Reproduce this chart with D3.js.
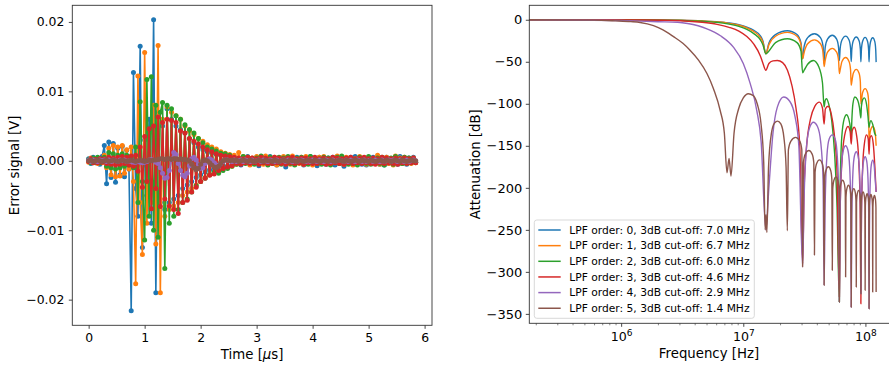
<!DOCTYPE html>
<html><head><meta charset="utf-8">
<script src="https://cdn.jsdelivr.net/npm/d3@7"></script>
<style>body{margin:0;background:#fff}svg text{font-family:"DejaVu Sans",sans-serif;fill:#000}</style>
</head><body><svg id="c" width="889" height="365"></svg>
<script>
// ---------- DATA ----------
const colors = ["#1f77b4","#ff7f0e","#2ca02c","#d62728","#9467bd","#8c564b"];
const timeStepUs = 0.04;
const errorOrder0 = [0.0003,-0.0004,0.0005,-0.0003,0.0002,-0.0005,0.0006,0.0022,-0.0033,0.0027,
-0.0024,0.0025,-0.0031,0.0018,-0.002,0.0021,-0.0023,0.0015,-0.0012,-0.0216,
0.0127,-0.004,-0.008,0.0165,-0.0125,0.003,-0.005,0.006,-0.009,0.0203,
-0.019,0.007,-0.006,0.005,-0.007,0.0075,-0.006,0.006,-0.0055,0.005,
-0.005,0.0045,-0.004,0.004,-0.0035,0.0032,-0.003,0.0026,-0.0024,0.002,
-0.002,0.0016,-0.0016,0.0013,-0.0013,0.0011,-0.001,0.0009,-0.0009,0.0008,
-0.0008,0.0007,-0.0007,0.0006,-0.0006,
0.0005,-0.0004,0.0003,-0.0006,0.0004,-0.0003,0.0006,-0.0005,0.0002,-0.0004,0.0005,-0.0007,0.0003,-0.0002,0.0004,-0.0005,0.0006,-0.0003,0.0002,-0.0006,
0.0004,-0.0004,0.0005,-0.0009,0.0003,-0.0003,0.0004,-0.0005,0.0005,-0.0002,0.0003,-0.0006,0.0004,-0.0004,0.0006,-0.0003,0.0002,-0.0007,0.0005,-0.0004,
0.0003,-0.0005,0.0004,-0.0003,0.0005,-0.0006,0.0002,-0.0004,0.0004,-0.0008,0.0003,-0.0003,0.0005,-0.0004,0.0006,-0.0002,0.0003,-0.0005,0.0004,-0.0006,
0.0002,-0.0004,0.0005,-0.0003,0.0004,-0.0005,0.0003,-0.0006,0.0005,-0.0004,0.0002,-0.0003,0.0004,-0.0005,0.0006,-0.0004,0.0003,-0.0005,0.0004,-0.0003,
0.0005,-0.0002];
const errorOrder1 = [-0.0002,0.0004,-0.0003,0.0003,-0.0004,0.0002,-0.0003,0.0008,-0.001,0.0018,
-0.002,0.0022,-0.0023,0.002,-0.0022,0.0022,-0.0018,0.0016,-0.0012,0.002,
-0.003,-0.0177,0.0122,-0.006,-0.0135,0.0156,-0.009,0.004,-0.006,0.008,
-0.012,0.0166,-0.019,0.006,-0.008,0.0078,-0.007,0.007,-0.0065,0.0065,
-0.006,0.006,-0.005,0.005,-0.0045,0.0043,-0.004,0.0038,-0.0035,0.0032,
-0.003,0.0028,-0.0024,0.0023,-0.002,0.002,-0.0017,0.0017,-0.0014,0.0013,
-0.0012,0.0011,-0.001,0.0009,-0.0008,
0.0008,-0.0005,0.0012,-0.0004,0.0006,-0.0003,0.0005,-0.0006,0.0004,-0.0002,0.0006,-0.0004,0.0003,-0.0005,0.0007,-0.0003,0.0004,-0.0004,0.0005,-0.0006,
0.0003,-0.0002,0.0006,-0.0004,0.0004,-0.0005,0.0007,-0.0003,0.0003,-0.0004,0.0005,-0.0005,0.0006,-0.0002,0.0004,-0.0006,0.0003,-0.0003,0.0005,-0.0004,
0.0006,-0.0004,0.0002,-0.0005,0.0004,-0.0003,0.0007,-0.0004,0.0003,-0.0005,0.0005,-0.0002,0.0004,-0.0006,0.0003,-0.0004,0.0006,-0.0003,0.0004,-0.0005,
0.0005,-0.0003,0.0003,-0.0004,0.0008,-0.0005,0.0004,-0.0002,0.0005,-0.0004,0.0003,-0.0006,0.0007,-0.0003,0.0004,-0.0004,0.0005,-0.0003,0.0003,-0.0004,
0.0004,-0.0003];
const errorOrder2 = [0.0002,-0.0003,0.0004,-0.0002,0.0005,-0.0003,0.0003,0.0005,-0.0008,0.0012,
-0.001,0.001,-0.0012,0.0008,-0.001,0.001,-0.0008,0.0008,-0.0006,0.0005,
-0.001,0.002,-0.006,0.0085,-0.003,-0.0114,0.0117,-0.008,0.0121,-0.01,
0.008,-0.011,0.007,0.0084,-0.0155,0.008,-0.009,0.0075,-0.008,0.0065,
-0.007,0.006,-0.006,0.0052,-0.0055,0.0045,-0.0045,0.004,-0.0036,0.0032,
-0.003,0.0026,-0.0025,0.002,-0.002,0.0017,-0.0016,0.0014,-0.0018,0.0011,
-0.0014,0.001,-0.0011,0.0008,-0.0008,
0.0004,-0.0005,0.0003,-0.0003,0.0006,-0.0004,0.0005,-0.0002,0.0003,-0.0005,0.0004,-0.0004,0.0007,-0.0003,0.0002,-0.0006,0.0005,-0.0004,0.0003,-0.0003,
0.0005,-0.0005,0.0004,-0.0002,0.0006,-0.0004,0.0003,-0.0006,0.0004,-0.0003,0.0005,-0.0004,0.0002,-0.0005,0.0006,-0.0003,0.0004,-0.0004,0.0003,-0.0005,
0.0005,-0.0003,0.0004,-0.0006,0.0003,-0.0002,0.0005,-0.0004,0.0007,-0.0003,0.0003,-0.0005,0.0004,-0.0004,0.0002,-0.0006,0.0005,-0.0003,0.0004,-0.0004,
0.0006,-0.0005,0.0003,-0.0003,0.0004,-0.0004,0.0005,-0.0006,0.0003,-0.0002,0.0004,-0.0005,0.0006,-0.0003,0.0003,-0.0004,0.0005,-0.0004,0.0004,-0.0003,
0.0003,-0.0002];
const errorOrder3 = [-0.0001,0.0003,-0.0003,0.0002,-0.0003,0.0003,-0.0002,0.0003,-0.0004,0.0005,
-0.0005,0.0004,-0.0006,0.0005,-0.0005,0.0006,-0.0004,0.0005,-0.0006,0.0007,
-0.0008,0.0008,-0.0015,0.002,-0.0038,0.0035,-0.003,0.0046,-0.0069,0.005,
-0.004,0.0063,-0.0066,0.0055,-0.0055,0.006,-0.0065,0.0058,-0.007,0.0055,
-0.0076,0.0043,-0.006,0.004,-0.0057,0.0032,-0.0045,0.0028,-0.0038,0.0024,
-0.003,0.002,-0.0025,0.0016,-0.0021,0.0013,-0.0019,0.001,-0.0014,0.0008,
-0.0011,0.0007,-0.0009,0.0006,-0.0007,
0.0005,-0.0004,0.0004,-0.0005,0.0003,-0.0003,0.0005,-0.0004,0.0004,-0.0003,0.0003,-0.0005,0.0005,-0.0003,0.0004,-0.0004,0.0003,-0.0004,0.0005,-0.0003,
0.0004,-0.0004,0.0003,-0.0005,0.0004,-0.0003,0.0005,-0.0004,0.0003,-0.0003,0.0004,-0.0005,0.0004,-0.0003,0.0003,-0.0004,0.0005,-0.0004,0.0003,-0.0003,
0.0004,-0.0005,0.0003,-0.0004,0.0005,-0.0003,0.0004,-0.0004,0.0003,-0.0005,0.0004,-0.0003,0.0005,-0.0004,0.0003,-0.0003,0.0004,-0.0004,0.0005,-0.0003,
0.0003,-0.0004,0.0004,-0.0005,0.0003,-0.0003,0.0005,-0.0004,0.0004,-0.0003,0.0003,-0.0004,0.0004,-0.0005,0.0003,-0.0003,0.0004,-0.0004,0.0003,-0.0003,
0.0004,-0.0003];
const errorOrder4 = [0.0001,-0.0001,0.0001,0,-0.0001,0.0001,0,0.0001,-0.0001,0.0001,
-0.0001,0.0001,0,-0.0001,0.0001,0,0.0001,-0.0001,0,-0.0001,
-0.0002,-0.0002,-0.0001,-0.0002,-0.0003,-0.0002,-0.0001,0.0001,0.0002,0,
-0.0002,-0.0004,-0.001,-0.0018,-0.0025,-0.0024,-0.0014,0.0002,0.0012,0.0009,
-0.0004,-0.0014,-0.0021,-0.0023,-0.0018,-0.0007,0.0003,0.0005,0.0001,-0.0005,
-0.0011,-0.001,-0.0004,0.0001,0.0003,0.0001,-0.0003,-0.0006,-0.0007,-0.0004,
-0.0001,0.0001,0.0001,0,-0.0001,
0.0001,-0.0001,0,0.0001,-0.0001,0.0001,0,-0.0001,0.0001,-0.0001,0,0.0001,-0.0001,0.0001,0,-0.0001,0.0001,0,-0.0001,0.0001,
-0.0001,0,0.0001,-0.0001,0.0001,0,-0.0001,0.0001,-0.0001,0,0.0001,0,-0.0001,0.0001,-0.0001,0.0001,0,-0.0001,0.0001,0,
-0.0001,0.0001,0,-0.0001,0.0001,-0.0001,0,0.0001,0,-0.0001,0.0001,-0.0001,0.0001,0,-0.0001,0.0001,0,-0.0001,0.0001,-0.0001,
0,0.0001,-0.0001,0.0001,0,-0.0001,0.0001,-0.0001,0,0.0001,-0.0001,0.0001,0,-0.0001,0.0001,0,-0.0001,0.0001,-0.0001,0,
0.0001,0];
const errorOrder5 = [0,0.0001,-0.0001,0,0.0001,0,-0.0001,0,0.0001,-0.0001,
0,0.0001,0,-0.0001,0,0.0001,0,-0.0001,0,0.0001,
0,-0.0001,0,0.0001,0,-0.0001,0,0.0001,0,0.0001,
0.0001,0.0002,0.0003,0.0003,0.0002,0.0003,0.0003,0.0002,0.0003,0.0003,
0.0002,0.0003,0.0002,0.0002,0.0001,0,-0.0005,-0.001,-0.0013,-0.0011,
-0.0005,0,0.0001,0,-0.0003,-0.0006,-0.0009,-0.001,-0.0008,-0.0004,
0,0.0001,0.0001,0,0.0001,
0,0.0001,-0.0001,0,0.0001,0,-0.0001,0.0001,0,-0.0001,0,0.0001,0,-0.0001,0.0001,0,0,-0.0001,0.0001,0,
-0.0001,0,0.0001,0,-0.0001,0.0001,0,0,-0.0001,0.0001,0,-0.0001,0,0.0001,0,-0.0001,0.0001,0,-0.0001,0,
0.0001,0,-0.0001,0.0001,0,-0.0001,0,0.0001,0,-0.0001,0.0001,0,-0.0001,0,0.0001,0,-0.0001,0.0001,0,0,
-0.0001,0.0001,0,-0.0001,0,0.0001,0,-0.0001,0.0001,0,-0.0001,0,0.0001,0,-0.0001,0.0001,0,-0.0001,0,0.0001,
0,0];

// Frequency responses: [frequency Hz, attenuation dB]
const respOrder0 = [[1.77e5,0],[1.5e6,-0.14],[3.06e6,-0.58],[4.6e6,-1.33],[6.1e6,-2.42],[7.0e6,-3.1],[7.65e6,-3.9],[9.2e6,-5.9],[10.7e6,-8.7],[12.2e6,-12.6],[13.8e6,-19.2],[14.5e6,-25.4],[15.3e6,-40.5],
[16.22e6,-27.6],[18.36e6,-17.6],[22.95e6,-13],[27.54e6,-17.6],[29.68e6,-27.6],[30.6e6,-46.5],
[31.52e6,-31.3],[33.66e6,-21.3],[38.25e6,-16.7],[42.84e6,-21.3],[44.98e6,-31.3],[45.9e6,-52.4],
[46.82e6,-33.1],[48.96e6,-23.1],[53.55e6,-18.5],[58.14e6,-23.1],[60.28e6,-33.1],[61.2e6,-48.5],
[62.12e6,-34.1],[64.26e6,-24.1],[68.85e6,-19.5],[73.44e6,-24.1],[75.58e6,-34.1],[76.5e6,-49.7],
[77.42e6,-35.1],[79.56e6,-25.1],[84.15e6,-20.5],[88.74e6,-25.1],[90.88e6,-35.1],[91.8e6,-50],
[92.72e6,-35.6],[94.86e6,-25.6],[99.45e6,-21],[104.04e6,-25.6],[106.18e6,-35.6],[107.1e6,-50],
[108.02e6,-36.1],[110.16e6,-26.1],[114.75e6,-21.5],[119.34e6,-26.1],[121.48e6,-36.1],[122.4e6,-50.4]];
const respOrder1 = [[1.77e5,0],[1.5e6,-0.15],[3.06e6,-0.63],[4.6e6,-1.45],[6.1e6,-2.65],[6.7e6,-3.0],[7.65e6,-4.3],[9.2e6,-6.5],[10.7e6,-9.6],[12.2e6,-14],[13.8e6,-21],[14.5e6,-27],[15.3e6,-40.5],
[16.22e6,-29.6],[18.36e6,-19.6],[22.95e6,-15],[27.54e6,-19.6],[29.68e6,-29.6],[30.6e6,-46.5],
[31.52e6,-38.6],[33.66e6,-28.6],[38.25e6,-24],[42.84e6,-28.6],[44.98e6,-38.6],[45.9e6,-55.6],
[46.82e6,-48.6],[48.96e6,-38.6],[53.55e6,-34],[58.14e6,-38.6],[60.28e6,-48.6],[61.2e6,-64],
[62.12e6,-59.6],[64.26e6,-49.6],[68.85e6,-45],[73.44e6,-49.6],[75.58e6,-59.6],[76.5e6,-78],
[77.42e6,-73.6],[79.56e6,-63.6],[84.15e6,-59],[88.74e6,-63.6],[90.88e6,-73.6],[91.8e6,-100],
[92.72e6,-96.6],[94.86e6,-86.6],[99.45e6,-82],[104.04e6,-86.6],[106.18e6,-96.6],[107.1e6,-150],
[108.02e6,-141.6],[110.16e6,-131.6],[114.75e6,-127],[119.34e6,-131.6],[121.48e6,-141.6],[122.4e6,-150]];
const respOrder2 = [[1.77e5,0],[1.5e6,-0.18],[3.06e6,-0.75],[4.6e6,-1.75],[6.0e6,-3.0],[7.65e6,-5.2],[9.2e6,-7.8],[10.7e6,-11.5],[12.2e6,-16.5],[13.8e6,-24],[14.5e6,-30],[15.3e6,-40.5],
[16.22e6,-37.2],[18.36e6,-27.2],[22.95e6,-22.6],[27.54e6,-27.2],[29.68e6,-37.2],[30.6e6,-63],
[31.52e6,-60],[33.66e6,-53],[37.5e6,-48.5],[41.5e6,-56],[44.5e6,-75],[45.9e6,-104],
[46.8e6,-96],[48e6,-94],[50e6,-100],[53e6,-120],[56e6,-160],[58.5e6,-220],[61.2e6,-336],
[62.1e6,-200],[64e6,-140],[67e6,-118],[70e6,-113],[73e6,-118],[75.5e6,-130],[76.5e6,-140],
[77.4e6,-120],[79e6,-100],[82e6,-92],[86e6,-95],[89.5e6,-105],[91.8e6,-117],
[92.7e6,-103],[95e6,-95],[98e6,-93],[102e6,-100],[105e6,-115],[107.1e6,-128],
[108e6,-125],[111e6,-120],[115e6,-125],[119e6,-135],[122.4e6,-138]];
const respOrder3 = [[1.77e5,0],[1.5e6,-0.3],[3.06e6,-1.2],[4.6e6,-3.0],[6.1e6,-5.5],[7.65e6,-9],[9.2e6,-13.5],[10.7e6,-20],[12.2e6,-29],[13.8e6,-43],[14.5e6,-52],[15.3e6,-60],
[16.2e6,-52],[17.5e6,-49],[19e6,-48.4],[21e6,-51],[23e6,-60],[25e6,-78],[27e6,-105],[29e6,-150],[30.6e6,-290],
[31.5e6,-200],[33e6,-150],[35.5e6,-118],[38.5e6,-103],[42e6,-98],[44.5e6,-105],[45.9e6,-124],[47e6,-106],[49.5e6,-103],[52.5e6,-112],[55.5e6,-135],[58.5e6,-180],[61.2e6,-330],
[62.2e6,-220],[64.5e6,-165],[67.5e6,-138],[72e6,-127],[75e6,-133],[76.5e6,-148],[78e6,-132],[81e6,-128],[84.5e6,-137],[88e6,-165],[90.5e6,-220],[91.8e6,-338],
[92.8e6,-230],[95e6,-175],[98e6,-148],[102e6,-137],[105.5e6,-142],[107.1e6,-160],[108.7e6,-141],[112e6,-138],[116e6,-148],[119.5e6,-175],[122.4e6,-205]];
const respOrder4 = [[1.77e5,0],[1e6,-0.9],[1.43e6,-1.6],[2.0e6,-2.3],[2.9e6,-3.0],[3.5e6,-4.5],[5.04e6,-10.8],[6.5e6,-19],[8.3e6,-32.6],[10e6,-52],[11.4e6,-76],[12.9e6,-108],[14e6,-145],[15.3e6,-250],
[16.2e6,-200],[17.5e6,-135],[19e6,-104],[21.4e6,-92],[24e6,-97],[26.5e6,-115],[28.5e6,-150],[30.6e6,-294],
[31.5e6,-210],[33e6,-150],[35e6,-128],[37.5e6,-122],[40.5e6,-127],[43e6,-145],[45e6,-190],[45.9e6,-316],
[46.8e6,-220],[48.5e6,-160],[50.5e6,-142],[53.5e6,-137],[56.5e6,-142],[59e6,-165],[60.5e6,-210],[61.2e6,-336],
[62.1e6,-230],[63.8e6,-172],[66e6,-155],[68.8e6,-150],[71.8e6,-155],[74.3e6,-175],[75.8e6,-220],[76.5e6,-342],
[77.4e6,-235],[79.1e6,-180],[81.3e6,-162],[84.2e6,-157],[87.1e6,-162],[89.6e6,-182],[91.1e6,-228],[91.8e6,-326],
[92.7e6,-240],[94.4e6,-185],[96.6e6,-168],[99.5e6,-163],[102.4e6,-168],[104.9e6,-188],[106.4e6,-232],[107.1e6,-344],
[108e6,-245],[109.7e6,-190],[111.9e6,-172],[114.8e6,-167],[117.7e6,-172],[120.2e6,-190],[122.4e6,-205]];
const respOrder5 = [[1.77e5,0],[0.6e6,-0.4],[0.9e6,-1.3],[1.2e6,-2.2],[1.43e6,-3.2],[1.84e6,-7],[2.2e6,-12],[2.68e6,-20],[3.2e6,-28],[3.68e6,-36.5],[4.3e6,-48],[5.04e6,-64],[5.7e6,-82],[6.47e6,-108],[7.0e6,-135],[7.35e6,-182],[7.65e6,-165],[7.93e6,-186],
[8.4e6,-135],[9.2e6,-105],[10e6,-93],[11e6,-88],[12e6,-90],[13e6,-100],[14e6,-125],[14.7e6,-170],[15.1e6,-250],[15.35e6,-232],[15.6e6,-253],
[16.1e6,-175],[17e6,-135],[18e6,-123],[19.1e6,-120.6],[20.3e6,-124],[21.5e6,-140],[22.4e6,-175],[22.95e6,-251],
[23.41e6,-154.6],[24.48e6,-144.6],[26.78e6,-140],[29.07e6,-144.6],[30.14e6,-154.6],[30.6e6,-294],
[31.06e6,-170.2],[32.13e6,-160.2],[34.43e6,-155.6],[36.72e6,-160.2],[37.79e6,-170.2],[38.25e6,-280],
[38.71e6,-181.3],[39.78e6,-171.3],[42.08e6,-166.7],[44.37e6,-171.3],[45.44e6,-181.3],[45.9e6,-316],
[46.36e6,-189.6],[47.43e6,-179.6],[49.73e6,-175],[52.02e6,-179.6],[53.09e6,-189.6],[53.55e6,-298],
[54.01e6,-201.6],[55.08e6,-191.6],[57.38e6,-187],[59.67e6,-191.6],[60.74e6,-201.6],[61.2e6,-336],
[61.66e6,-205.6],[62.73e6,-195.6],[65.03e6,-191],[67.32e6,-195.6],[68.39e6,-205.6],[68.85e6,-306],
[69.31e6,-211.6],[70.38e6,-201.6],[72.68e6,-197],[74.97e6,-201.6],[76.04e6,-211.6],[76.5e6,-342],
[76.96e6,-215.6],[78.03e6,-205.6],[80.33e6,-201],[82.62e6,-205.6],[83.69e6,-215.6],[84.15e6,-318],
[84.61e6,-217.6],[85.68e6,-207.6],[87.98e6,-203],[90.27e6,-207.6],[91.34e6,-217.6],[91.8e6,-326],
[92.26e6,-219.6],[93.33e6,-209.6],[95.63e6,-205],[97.92e6,-209.6],[98.99e6,-219.6],[99.45e6,-322],
[99.91e6,-221.6],[100.98e6,-211.6],[103.28e6,-207],[105.57e6,-211.6],[106.64e6,-221.6],[107.1e6,-344],
[107.56e6,-222.6],[108.63e6,-212.6],[110.93e6,-208],[113.22e6,-212.6],[114.29e6,-222.6],[114.75e6,-324],
[115.21e6,-223.6],[116.28e6,-213.6],[118.58e6,-209],[120.87e6,-213.6],[121.94e6,-223.6],[122.4e6,-324]];

const legendLabels = ["LPF order: 0, 3dB cut-off: 7.0 MHz","LPF order: 1, 3dB cut-off: 6.7 MHz","LPF order: 2, 3dB cut-off: 6.0 MHz","LPF order: 3, 3dB cut-off: 4.6 MHz","LPF order: 4, 3dB cut-off: 2.9 MHz","LPF order: 5, 3dB cut-off: 1.4 MHz"];
const timeTicks = [0,1,2,3,4,5,6];
const errorTicks = [-0.02,-0.01,0,0.01,0.02];
const attTicks = [0,-50,-100,-150,-200,-250,-300,-350];
const freqTicks = [1e6,1e7,1e8];
const freqLimits = [1.77e5, 1.66e8];

// ---------- DRAW ----------
const svg = d3.select("#c");
const defs = svg.append("defs");
const spineColor = "#333";

// Left panel
const LP = {x0:72.3, x1:432, y0:5.3, y1:325.3};
const errSeries = [errorOrder0,errorOrder1,errorOrder2,errorOrder3,errorOrder4,errorOrder5]
  .map(arr => arr.map((v,i) => [i*timeStepUs, v]));
const tMax = d3.max(errSeries, s => d3.max(s, d => d[0]));
const xL = d3.scaleLinear().domain([-0.05*tMax, 1.05*tMax]).range([LP.x0, LP.x1]);
const vExt = d3.extent(errSeries.flat(), d => d[1]);
const vPad = 0.05*(vExt[1]-vExt[0]);
const yL = d3.scaleLinear().domain([vExt[0]-vPad, vExt[1]+vPad]).range([LP.y1, LP.y0]);

defs.append("clipPath").attr("id","clipL").append("rect")
  .attr("x",LP.x0).attr("y",LP.y0).attr("width",LP.x1-LP.x0).attr("height",LP.y1-LP.y0);
const gL = svg.append("g").attr("clip-path","url(#clipL)");
const lineL = d3.line().x(d => xL(d[0])).y(d => yL(d[1]));
errSeries.forEach((s,k) => {
  gL.append("path").attr("d", lineL(s)).attr("fill","none")
    .attr("stroke", colors[k]).attr("stroke-width",1.6).attr("stroke-linejoin","round");
  gL.append("g").selectAll("circle").data(s).join("circle")
    .attr("cx", d => xL(d[0])).attr("cy", d => yL(d[1])).attr("r", 2.5).attr("fill", colors[k]);
});

function styleAxis(g, size){
  g.select(".domain").remove();
  g.selectAll(".tick line").attr("stroke", spineColor).attr("stroke-width",0.9);
  g.selectAll(".tick text").attr("font-size", size+"px").attr("fill","#000")
   .attr("font-family","DejaVu Sans, sans-serif");
}
svg.append("g").attr("transform",`translate(0,${LP.y1})`)
  .call(d3.axisBottom(xL).tickValues(timeTicks).tickFormat(d3.format("d")).tickSize(3.5).tickPadding(4))
  .call(g => styleAxis(g, 12.4));
svg.append("g").attr("transform",`translate(${LP.x0},0)`)
  .call(d3.axisLeft(yL).tickValues(errorTicks).tickFormat(d3.format(".2f")).tickSize(3.5).tickPadding(4.5))
  .call(g => styleAxis(g, 12.4));
svg.append("rect").attr("x",LP.x0).attr("y",LP.y0).attr("width",LP.x1-LP.x0).attr("height",LP.y1-LP.y0)
  .attr("fill","none").attr("stroke",spineColor).attr("stroke-width",0.9);
const tl = svg.append("text").attr("x",(LP.x0+LP.x1)/2).attr("y",359).attr("text-anchor","middle").attr("font-size","13.3px");
tl.append("tspan").text("Time [");
tl.append("tspan").attr("font-style","italic").text("μ");
tl.append("tspan").text("s]");
svg.append("text").attr("transform",`translate(18.5,${(LP.y0+LP.y1)/2}) rotate(-90)`)
  .attr("text-anchor","middle").attr("font-size","13.3px").text("Error signal [V]");

// Right panel
const RP = {x0:529.3, x1:892.3, y0:5.3, y1:323.3};
const respSeries = [respOrder0,respOrder1,respOrder2,respOrder3,respOrder4,respOrder5];
const allResp = respSeries.flat();
const xR = d3.scaleLog().domain(freqLimits).range([RP.x0, RP.x1]);
const dbExt = d3.extent(allResp, d => d[1]);
const dbPad = 0.05*(dbExt[1]-dbExt[0]);
const yR = d3.scaleLinear().domain([dbExt[0]-dbPad, dbExt[1]+dbPad]).range([RP.y1, RP.y0]);

defs.append("clipPath").attr("id","clipR").append("rect")
  .attr("x",RP.x0).attr("y",RP.y0).attr("width",RP.x1-RP.x0).attr("height",RP.y1-RP.y0);
const gR = svg.append("g").attr("clip-path","url(#clipR)");
const lineR = d3.line().x(d => xR(d[0])).y(d => yR(d[1])).curve(d3.curveMonotoneX);
respSeries.forEach((s,k) => {
  gR.append("path").attr("d", lineR(s)).attr("fill","none")
    .attr("stroke", colors[k]).attr("stroke-width",1.4).attr("stroke-linejoin","round");
});

// axes right
const minorTicks = [];
[1e5,1e6,1e7,1e8].forEach(dec => { for (let m=2;m<=9;m++){ const v=m*dec; if (v>=freqLimits[0]&&v<=freqLimits[1]) minorTicks.push(v);} });
svg.append("g").attr("transform",`translate(0,${RP.y1})`)
  .call(d3.axisBottom(xR).tickValues(minorTicks).tickFormat("").tickSize(2))
  .call(g => { g.select(".domain").remove(); g.selectAll(".tick line").attr("stroke",spineColor).attr("stroke-width",0.6); });
const gxR = svg.append("g").attr("transform",`translate(0,${RP.y1})`)
  .call(d3.axisBottom(xR).tickValues(freqTicks).tickFormat("").tickSize(3.5));
gxR.select(".domain").remove();
gxR.selectAll(".tick line").attr("stroke",spineColor).attr("stroke-width",0.9);
gxR.selectAll(".tick").append("text").attr("y",17.5).attr("text-anchor","middle").attr("font-size","12.6px")
  .each(function(d){
    const t = d3.select(this);
    t.append("tspan").text("10");
    t.append("tspan").attr("dy","-5").attr("font-size","9px").text(Math.round(Math.log10(d)));
  });
svg.append("g").attr("transform",`translate(${RP.x0},0)`)
  .call(d3.axisLeft(yR).tickValues(attTicks).tickFormat(d3.format("d")).tickSize(3.5).tickPadding(3.5))
  .call(g => styleAxis(g, 13));
svg.append("rect").attr("x",RP.x0).attr("y",RP.y0).attr("width",RP.x1-RP.x0).attr("height",RP.y1-RP.y0)
  .attr("fill","none").attr("stroke",spineColor).attr("stroke-width",0.9);
svg.append("text").attr("x",709).attr("y",358).attr("text-anchor","middle").attr("font-size","13.3px").text("Frequency [Hz]");
svg.append("text").attr("transform",`translate(479.5,${(RP.y0+RP.y1)/2}) rotate(-90)`)
  .attr("text-anchor","middle").attr("font-size","13.3px").text("Attenuation [dB]");

// legend
const lg = svg.append("g");
lg.append("rect").attr("x",534.3).attr("y",220).attr("width",220).attr("height",98.3).attr("rx",2.5)
  .attr("fill","#fff").attr("fill-opacity",0.8).attr("stroke","#d5d5d5").attr("stroke-width",0.9);
legendLabels.forEach((lab,k) => {
  const yy = 230 + k*15.65;
  lg.append("line").attr("x1",538.3).attr("x2",560.7).attr("y1",yy).attr("y2",yy)
    .attr("stroke",colors[k]).attr("stroke-width",1.5);
  lg.append("text").attr("x",569.3).attr("y",yy).attr("dy","0.35em").attr("font-size","10.7px").text(lab);
});
</script>
</body></html>
